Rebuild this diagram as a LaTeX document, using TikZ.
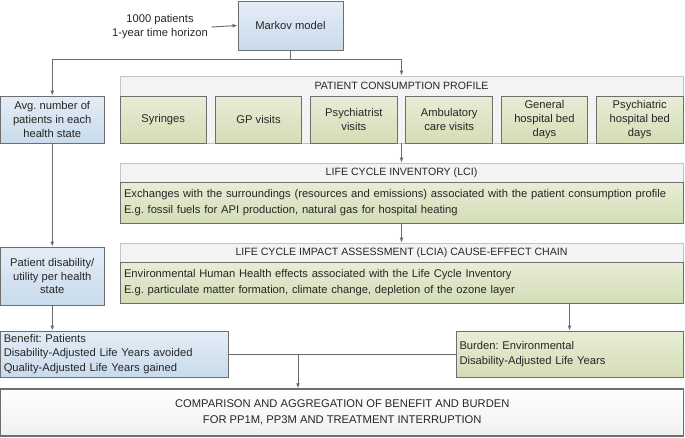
\documentclass[tikz,border=0pt]{standalone}
\usepackage{fontspec}
\setmainfont{Liberation Sans}
\usetikzlibrary{arrows.meta,calc}
\frenchspacing
\definecolor{bordc}{HTML}{6E6E6E}
\definecolor{linec}{HTML}{6A6A6A}
\definecolor{bluetop}{HTML}{E4EDF6}
\definecolor{bluebot}{HTML}{C8DBEC}
\definecolor{greentop}{HTML}{E8EDD6}
\definecolor{greenbot}{HTML}{D4DDB6}
\definecolor{contfill}{HTML}{F3F3F3}
\definecolor{contbord}{HTML}{C4C4C4}
\tikzset{
  base/.style={draw=bordc, line width=0.9pt, inner sep=3pt, font=\fontsize{11.2}{13.8}\selectfont, text=black!85},
  bluebox/.style={base, top color=bluetop, bottom color=bluebot, align=center},
  greenbox/.style={base, top color=greentop, bottom color=greenbot, align=center},
  contbox/.style={draw=contbord, fill=contfill, line width=0.8pt},
  hdr/.style={font=\fontsize{10.6}{12}\selectfont, text=black!85},
  plain/.style={font=\fontsize{11.2}{13.8}\selectfont, text=black!85, align=center},
  conn/.style={draw=linec, line width=0.9pt},
  arr/.style={conn, -{Latex[length=5pt,width=4pt]}},
}
\begin{document}
\begin{tikzpicture}[x=1pt,y=-1pt]
\useasboundingbox (0,0) rectangle (685,437);
% Markov
\node[bluebox, minimum width=105pt, minimum height=49pt] (markov) at (290.5,25.5) {Markov model};
\node[plain] (input) at (160,27) {1000 patients\\1-year time horizon};
\draw[arr] (input.east) -- (markov.west);
% left column
\node[bluebox, minimum width=103.5pt, minimum height=47pt] (avg) at (52.25,119.5) {Avg. number of\\patients in each\\health state};
\node[bluebox, minimum width=103.5pt, minimum height=58pt] (disab) at (52.25,276) {Patient disability/\\utility per health\\state};
\node[bluebox, minimum width=227.5pt, minimum height=46pt, text width=221pt, align=left, font=\fontsize{11.2}{14.5}\selectfont] (benefit) at (114.25,354) {Benefit: Patients\\Disability-Adjusted Life Years avoided\\Quality-Adjusted Life Years gained};
% Patient consumption profile
\node[contbox, minimum width=563pt, minimum height=67pt] (pcp) at (401.5,109.5) {};
\node[hdr] (pcphdr) at (401.5,86) {PATIENT CONSUMPTION PROFILE};
\foreach \i/\t in {0/Syringes,1/GP visits,2/Psychiatrist\\visits,3/Ambulatory\\care visits,4/General\\hospital bed\\days,5/Psychiatric\\hospital bed\\days}{
  \node[greenbox, minimum width=86.5pt, minimum height=47pt] (pc\i) at ({120+95.3*\i+43.25},119.5) {\t};
}
% LCI
\node[contbox, minimum width=563pt, minimum height=60pt] (lci) at (401.5,193) {};
\node[hdr] (lcihdr) at (401.5,173) {LIFE CYCLE INVENTORY (LCI)};
\node[greenbox, minimum width=563pt, minimum height=41pt, text width=555pt, align=left, font=\fontsize{11.2}{15.5}\selectfont] (lcibody) at (401.5,202.5) {Exchanges with the surroundings (resources and emissions) associated with the patient consumption profile\\E.g. fossil fuels for API production, natural gas for hospital heating};
% LCIA
\node[contbox, minimum width=563pt, minimum height=60pt] (lcia) at (401.5,273) {};
\node[hdr] (lciahdr) at (401.5,253) {LIFE CYCLE IMPACT ASSESSMENT (LCIA) CAUSE-EFFECT CHAIN};
\node[greenbox, minimum width=563pt, minimum height=41pt, text width=555pt, align=left, font=\fontsize{11.2}{15.5}\selectfont] (lciabody) at (401.5,282.5) {Environmental Human Health effects associated with the Life Cycle Inventory\\E.g. particulate matter formation, climate change, depletion of the ozone layer};
% Burden
\node[greenbox, minimum width=227pt, minimum height=46pt, text width=220pt, align=left, font=\fontsize{11.2}{15}\selectfont] (burden) at (569.5,354) {Burden: Environmental\\Disability-Adjusted Life Years};
% Comparison
\node[draw=bordc, line width=1.3pt, top color=white, bottom color=black!6, minimum width=683pt, minimum height=47pt, align=center, font=\fontsize{11.2}{16}\selectfont, text=black!85] (comp) at (342.25,412.5) {COMPARISON AND AGGREGATION OF BENEFIT AND BURDEN\\FOR PP1M, PP3M AND TREATMENT INTERRUPTION};
% connectors
\coordinate (j) at ($(markov.south)+(0,9)$);
\draw[conn] (markov.south) -- (j);
\draw[arr] (j) -| (avg.north);
\draw[arr] (j) -| (pcp.north);
\draw[arr] (pcp.south) -- (lci.north);
\draw[arr] (lci.south) -- (lcia.north);
\draw[arr] (avg.south) -- (disab.north);
\draw[arr] (disab.south) -- (benefit.north -| disab.south);
\draw[arr] (lcia.south -| burden.north) -- (burden.north);
\draw[conn] (benefit.east) -- (burden.west);
\coordinate (m) at (298,354);
\draw[arr] (m) -- (comp.north -| m);
\end{tikzpicture}
\end{document}
